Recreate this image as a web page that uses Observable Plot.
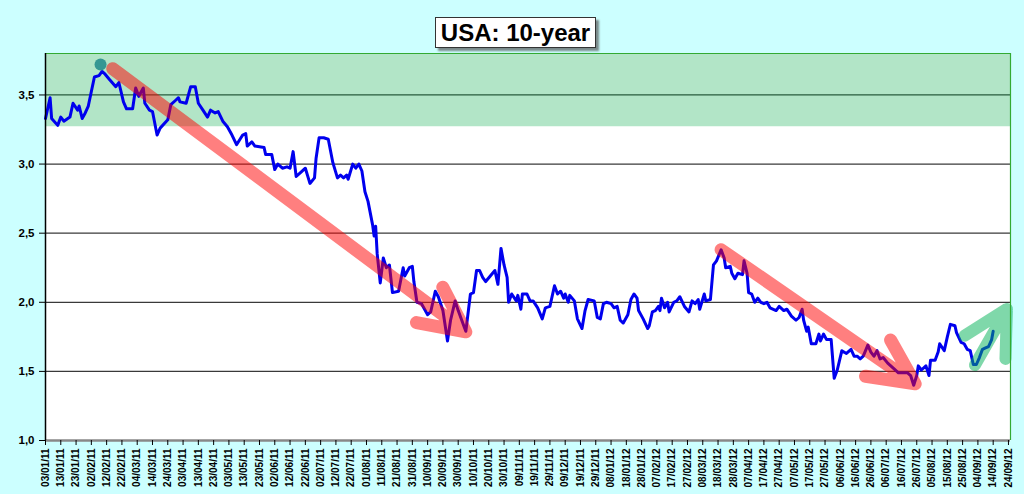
<!DOCTYPE html>
<html>
<head>
<meta charset="utf-8">
<script src="https://cdn.jsdelivr.net/npm/d3@7"></script>
<script src="https://cdn.jsdelivr.net/npm/@observablehq/plot@0.6"></script>
<style>
  html, body { margin: 0; padding: 0; background: #ccffff; }
  #wrap { position: relative; width: 1024px; height: 494px; }
  #title {
    position: absolute; left: 435px; top: 17px; width: 161px; height: 31px;
    box-sizing: border-box; border: 1px solid #333; background: #fff;
    box-shadow: 3px 3px 2px #7a8a8a;
    font: bold 24px "Liberation Sans", Arial, sans-serif; color: #000;
    text-align: center; line-height: 29px; white-space: nowrap;
  }
</style>
</head>
<body>
<div id="wrap"><div id="title">USA: 10-year</div></div>
<script>
// ---- data ----
const dates = [
  "2011-01-03","2011-01-06","2011-01-07","2011-01-11","2011-01-13","2011-01-15","2011-01-19","2011-01-21","2011-01-24","2011-01-25","2011-01-27","2011-01-29","2011-01-31",
  "2011-02-04","2011-02-07","2011-02-09","2011-02-11","2011-02-14","2011-02-18","2011-02-20","2011-02-23","2011-02-25",
  "2011-03-01","2011-03-03","2011-03-05","2011-03-08","2011-03-09","2011-03-12","2011-03-14","2011-03-17","2011-03-19","2011-03-24","2011-03-26","2011-03-29","2011-03-31",
  "2011-04-01","2011-04-05","2011-04-08","2011-04-11","2011-04-13","2011-04-16","2011-04-19","2011-04-21","2011-04-24","2011-04-26","2011-04-29",
  "2011-05-02","2011-05-05","2011-05-08","2011-05-12","2011-05-14","2011-05-15","2011-05-18","2011-05-20","2011-05-26","2011-05-27","2011-05-31",
  "2011-06-02","2011-06-04","2011-06-07","2011-06-10","2011-06-12","2011-06-14","2011-06-16","2011-06-19","2011-06-22","2011-06-25","2011-06-28","2011-06-29",
  "2011-07-01","2011-07-04","2011-07-07","2011-07-10","2011-07-13","2011-07-15","2011-07-17","2011-07-19","2011-07-20","2011-07-23","2011-07-25","2011-07-27","2011-07-29","2011-07-31",
  "2011-08-02","2011-08-05","2011-08-06","2011-08-07","2011-08-08","2011-08-10","2011-08-12","2011-08-14","2011-08-16","2011-08-18","2011-08-22","2011-08-25","2011-08-26","2011-08-29","2011-08-31",
  "2011-09-01","2011-09-03","2011-09-06","2011-09-10","2011-09-12","2011-09-15","2011-09-17","2011-09-20","2011-09-23","2011-09-25","2011-09-28","2011-09-30",
  "2011-10-04","2011-10-05","2011-10-08","2011-10-10","2011-10-12","2011-10-14","2011-10-16","2011-10-18","2011-10-21","2011-10-24","2011-10-26","2011-10-28","2011-10-30",
  "2011-11-01","2011-11-02","2011-11-04","2011-11-07","2011-11-08","2011-11-10","2011-11-11","2011-11-14","2011-11-16","2011-11-18","2011-11-21","2011-11-24","2011-11-26","2011-11-29",
  "2011-12-02","2011-12-04","2011-12-06","2011-12-08","2011-12-09","2011-12-11","2011-12-12","2011-12-15","2011-12-17","2011-12-20","2011-12-22","2011-12-24","2011-12-28","2011-12-30",
  "2012-01-01","2012-01-03","2012-01-05","2012-01-08","2012-01-10","2012-01-12","2012-01-14","2012-01-16","2012-01-19","2012-01-21","2012-01-23","2012-01-25","2012-01-26","2012-01-29",
  "2012-02-01","2012-02-02","2012-02-04","2012-02-06","2012-02-08","2012-02-09","2012-02-10","2012-02-12","2012-02-14","2012-02-15","2012-02-18","2012-02-20","2012-02-22","2012-02-25","2012-02-28",
  "2012-03-01","2012-03-03","2012-03-05","2012-03-06","2012-03-09","2012-03-10","2012-03-13","2012-03-15","2012-03-17","2012-03-20","2012-03-22","2012-03-23","2012-03-26","2012-03-27","2012-03-29","2012-03-31",
  "2012-04-03","2012-04-04","2012-04-06","2012-04-07","2012-04-09","2012-04-11","2012-04-13","2012-04-15","2012-04-17","2012-04-19","2012-04-21","2012-04-25","2012-04-27","2012-04-30",
  "2012-05-02","2012-05-05","2012-05-08","2012-05-10","2012-05-12","2012-05-13","2012-05-15","2012-05-16","2012-05-18","2012-05-21","2012-05-23","2012-05-24","2012-05-26","2012-05-28","2012-05-31",
  "2012-06-02","2012-06-04","2012-06-07","2012-06-10","2012-06-13","2012-06-15","2012-06-17","2012-06-19","2012-06-21","2012-06-24","2012-06-26","2012-06-28","2012-06-30",
  "2012-07-02","2012-07-04","2012-07-07","2012-07-09","2012-07-11","2012-07-14","2012-07-17","2012-07-20","2012-07-22","2012-07-24","2012-07-26","2012-07-27","2012-07-29",
  "2012-08-01","2012-08-03","2012-08-04","2012-08-07","2012-08-09","2012-08-10","2012-08-13","2012-08-15","2012-08-17","2012-08-20","2012-08-21","2012-08-24","2012-08-26","2012-08-28","2012-08-30",
  "2012-09-01","2012-09-03","2012-09-05","2012-09-07","2012-09-09","2012-09-11","2012-09-13","2012-09-14"
];
const yields = [
  3.33,3.48,3.33,3.28,3.34,3.31,3.34,3.44,3.39,3.42,3.33,3.37,3.42,
  3.63,3.64,3.67,3.65,3.61,3.56,3.59,3.45,3.40,
  3.40,3.55,3.49,3.55,3.44,3.39,3.38,3.21,3.26,3.32,3.43,3.46,3.48,
  3.45,3.44,3.56,3.56,3.44,3.39,3.34,3.39,3.37,3.38,3.31,
  3.27,3.21,3.14,3.21,3.22,3.13,3.16,3.13,3.12,3.07,3.07,
  2.96,3.00,2.97,2.98,2.97,3.09,2.91,2.94,2.97,2.86,2.90,3.04,
  3.19,3.19,3.18,3.01,2.90,2.92,2.90,2.92,2.89,3.00,2.97,3.00,2.95,2.80,
  2.73,2.56,2.48,2.55,2.35,2.14,2.32,2.25,2.27,2.07,2.08,2.25,2.19,2.25,2.26,
  2.15,2.00,1.99,1.91,1.93,2.08,2.04,1.94,1.72,1.87,2.01,1.94,
  1.82,1.79,2.06,2.07,2.23,2.23,2.18,2.15,2.19,2.23,2.13,2.39,2.27,
  2.18,2.00,2.06,2.01,2.05,1.95,2.06,2.06,2.01,2.01,1.96,1.88,1.96,1.97,
  2.12,2.06,2.08,2.03,2.06,2.00,2.05,2.01,1.88,1.81,1.94,2.02,2.01,1.89,
  1.88,1.99,2.00,1.99,1.96,1.97,1.87,1.85,1.91,2.02,2.06,2.03,1.94,1.88,
  1.81,1.83,1.93,1.94,1.97,1.94,2.03,1.96,2.00,1.93,2.00,2.01,2.04,1.97,1.93,
  2.01,1.99,2.02,1.95,2.06,2.01,2.02,2.27,2.30,2.38,2.32,2.25,2.26,2.21,2.17,2.21,
  2.20,2.30,2.21,2.07,2.06,2.00,2.03,2.00,1.99,2.00,1.96,1.94,1.97,1.94,
  1.95,1.90,1.87,1.89,1.95,1.87,1.79,1.82,1.70,1.70,1.77,1.72,1.77,1.73,1.73,
  1.45,1.51,1.65,1.63,1.66,1.61,1.61,1.59,1.61,1.69,1.64,1.61,1.65,
  1.59,1.60,1.56,1.54,1.52,1.49,1.49,1.49,1.47,1.40,1.47,1.54,1.51,
  1.54,1.47,1.58,1.58,1.64,1.70,1.65,1.75,1.84,1.83,1.78,1.71,1.70,1.66,1.65,
  1.55,1.55,1.60,1.66,1.67,1.68,1.73,1.79
];
const xTickLabels = [
  "03/01/11","13/01/11","23/01/11","02/02/11","12/02/11","22/02/11","04/03/11","14/03/11","24/03/11","03/04/11",
  "13/04/11","23/04/11","03/05/11","13/05/11","23/05/11","02/06/11","12/06/11","22/06/11","02/07/11","12/07/11",
  "22/07/11","01/08/11","11/08/11","21/08/11","31/08/11","10/09/11","20/09/11","30/09/11","10/10/11","20/10/11",
  "30/10/11","09/11/11","19/11/11","29/11/11","09/12/11","19/12/11","29/12/11","08/01/12","18/01/12","28/01/12",
  "07/02/12","17/02/12","27/02/12","08/03/12","18/03/12","28/03/12","07/04/12","17/04/12","27/04/12","07/05/12",
  "17/05/12","27/05/12","06/06/12","16/06/12","26/06/12","06/07/12","16/07/12","26/07/12","05/08/12","15/08/12",
  "25/08/12","04/09/12","14/09/12","24/09/12"
];
const yTicks = [1.0, 1.5, 2.0, 2.5, 3.0, 3.5];
const yDomain = [1.0, 3.8];
const band = [{y1: 3.27, y2: 3.8}];
const peak = [{date: "2011-02-08", value: 3.72}];
const redArrows = [
  {x1: "2011-02-16", y1: 3.69, x2: "2011-10-05", y2: 1.786},
  {x1: "2012-03-20", y1: 2.38, x2: "2012-07-25", y2: 1.41}
];
const greenArrow = [{x1: "2012-08-02", y1: 0.942, x2: "2012-09-23", y2: 1.952}];

// ---- build ----
const parseTick = d3.utcParse("%d/%m/%y");
const fmtTick = d3.utcFormat("%d/%m/%y");
const xTicks = xTickLabels.map(parseTick);
const xStart = xTicks[0];
const xEnd = new Date(Date.UTC(2012, 8, 25, 8));
const series = dates.map((d, i) => ({date: d3.isoParse(d), value: yields[i]}));
const pd = (a) => a.map(o => ({...o, x1: d3.isoParse(o.x1), x2: d3.isoParse(o.x2)}));
const reds = pd(redArrows), greens = pd(greenArrow);
const peaks = peak.map(p => ({date: d3.isoParse(p.date), value: p.value}));
const bands = band.map(b => ({...b, x1: xStart, x2: xEnd}));

const chart = Plot.plot({
  width: 1024, height: 494,
  marginLeft: 45, marginRight: 14, marginTop: 53, marginBottom: 54,
  style: {background: "transparent", fontFamily: "'Liberation Sans', Arial, sans-serif", overflow: "visible"},
  x: {type: "utc", domain: [xStart, xEnd]},
  y: {domain: yDomain},
  marks: [
    Plot.frame({fill: "#ffffff", stroke: null}),
    Plot.ruleY(yTicks.slice(1), {stroke: "#3a3a3a", strokeWidth: 1.2}),
    Plot.rect(bands, {x1: "x1", x2: "x2", y1: "y1", y2: "y2", fill: "#00aa46", fillOpacity: 0.3}),
    Plot.line(series, {x: "date", y: "value", stroke: "#0000ee", strokeWidth: 3, strokeLinejoin: "round"}),
    Plot.arrow(reds, {x1: "x1", y1: "y1", x2: "x2", y2: "y2", stroke: "#ff0000", strokeOpacity: 0.5, strokeWidth: 13, headLength: 5.8, headAngle: 52}),
    Plot.arrow(greens, {x1: "x1", y1: "y1", x2: "x2", y2: "y2", stroke: "#00b255", strokeOpacity: 0.5, strokeWidth: 12, headLength: 6.25, headAngle: 56, insetStart: 96}),
    Plot.dot(peaks, {x: "date", y: "value", r: 6, fill: "#1f8a8a", fillOpacity: 0.85, stroke: null}),
    Plot.ruleY([yDomain[1]], {stroke: "#33aa33", strokeWidth: 1.2}),
    Plot.ruleX([xEnd], {stroke: "#33aa33", strokeWidth: 1.2}),
    Plot.ruleY([yDomain[0]], {stroke: "#888888", strokeWidth: 2.5}),
    Plot.ruleX([xStart], {stroke: "#000000", strokeWidth: 1.5}),
    Plot.axisY(yTicks, {tickFormat: d => d.toFixed(1).replace(".", ","), fontSize: 11.5, fontWeight: "bold", tickSize: 6, tickPadding: 5, stroke: "#000", label: null}),
    Plot.axisX(xTicks, {tickFormat: fmtTick, tickRotate: -90, fontSize: 10, fontWeight: "bold", tickSize: 5, tickPadding: 3, stroke: "#000", label: null})
  ]
});
const wrap = document.getElementById("wrap");
chart.style.position = "absolute";
chart.style.left = "0px";
chart.style.top = "0px";
wrap.insertBefore(chart, wrap.firstChild);
</script>
</body>
</html>
